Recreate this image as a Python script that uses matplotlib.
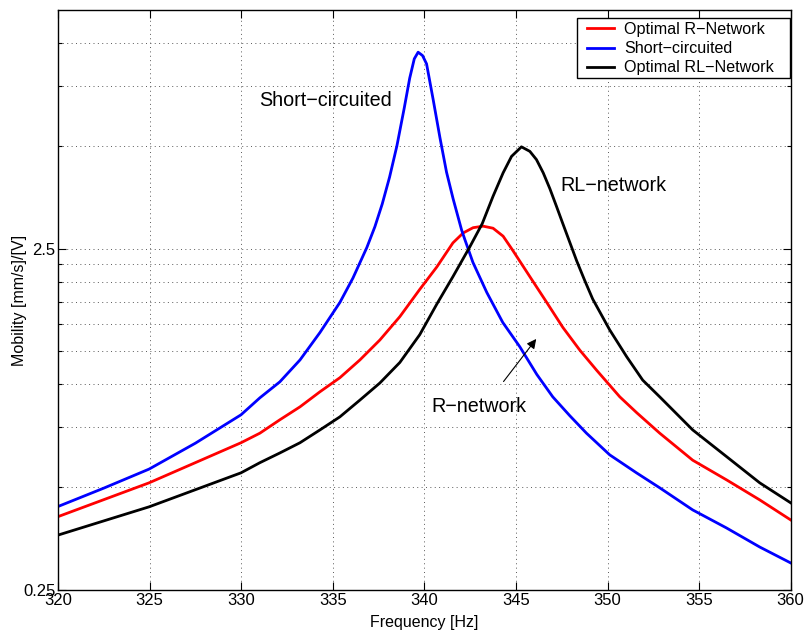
import matplotlib
matplotlib.use("Agg")
import matplotlib.pyplot as plt
from matplotlib.patches import Rectangle
from matplotlib.ticker import FixedLocator, NullFormatter

plt.rcParams['font.family'] = ['Liberation Sans', 'DejaVu Sans']

# Short-circuited
freq_sc = [320.0, 322.5, 324.97, 327.5, 329.99, 331.02, 332.11, 333.21, 334.30, 335.39,
           336.10, 336.86, 337.30, 337.70, 338.10, 338.50, 338.90, 339.20, 339.45, 339.66,
           339.90, 340.12, 340.48, 340.85, 341.21, 341.57, 342.03, 342.21, 342.65, 343.41,
           344.28, 345.21, 346.14, 347.01, 347.94, 348.85, 350.12, 351.58, 352.85, 354.65,
           356.49, 358.31, 360.0]
mob_sc = [0.439, 0.497, 0.565, 0.673, 0.815, 0.914, 1.018, 1.18, 1.42, 1.74,
          2.05, 2.52, 2.90, 3.38, 4.05, 5.0, 6.45, 7.90, 9.0, 9.41,
          9.2, 8.7, 6.84, 5.29, 4.19, 3.50, 2.84, 2.66, 2.28, 1.86,
          1.52, 1.29, 1.07, 0.92, 0.81, 0.72, 0.622, 0.551, 0.498, 0.429,
          0.38, 0.334, 0.300]

# Optimal R-network
freq_r = [320.0, 324.97, 329.99, 331.02, 332.11, 333.21, 334.30, 335.39, 336.48, 337.57,
          338.66, 339.75, 340.68, 341.56, 342.12, 342.66, 343.21, 343.75, 344.30, 344.83,
          345.76, 346.68, 347.56, 348.49, 349.41, 350.67, 351.60, 352.85, 354.65, 356.51,
          358.31, 360.0]
mob_r = [0.410, 0.515, 0.675, 0.72, 0.788, 0.86, 0.952, 1.047, 1.18, 1.35,
         1.58, 1.90, 2.21, 2.60, 2.78, 2.88, 2.91, 2.87, 2.72, 2.47,
         2.07, 1.74, 1.47, 1.26, 1.10, 0.92, 0.826, 0.72, 0.60, 0.525,
         0.459, 0.401]

# Optimal RL-network
freq_rl = [320.0, 324.97, 329.99, 331.02, 332.11, 333.21, 334.30, 335.39, 336.48, 337.57,
           338.66, 339.75, 340.68, 341.56, 342.48, 343.16, 343.75, 344.30, 344.76, 345.30,
           345.76, 346.12, 346.49, 346.85, 347.21, 347.56, 348.32, 348.75, 349.19, 350.12,
           351.05, 351.92, 352.85, 354.65, 356.51, 358.31, 360.0]
mob_rl = [0.362, 0.438, 0.551, 0.59, 0.63, 0.675, 0.736, 0.804, 0.90, 1.01,
          1.16, 1.40, 1.72, 2.07, 2.53, 2.96, 3.56, 4.17, 4.66, 4.97,
          4.82, 4.56, 4.17, 3.75, 3.33, 2.96, 2.30, 2.02, 1.78, 1.445,
          1.205, 1.03, 0.92, 0.736, 0.614, 0.515, 0.45]

series_labels = ['Optimal R\u2212Network', 'Short\u2212circuited', 'Optimal RL\u2212Network']
x_ticks = [320, 325, 330, 335, 340, 345, 350, 355, 360]
y_major = [0.25, 2.5]
y_minor = [0.5, 0.75, 1.0, 1.25, 1.5, 1.75, 2.0, 2.25, 5.0, 7.5, 10.0]

W, H = 806, 633
fig = plt.figure(figsize=(W / 100, H / 100), dpi=100)
ax = fig.add_axes([0.072, 0.068, 0.909, 0.916])

ax.plot(freq_r, mob_r, color=(1, 0, 0), lw=2.0, label=series_labels[0])
ax.plot(freq_sc, mob_sc, color=(0, 0, 1), lw=2.0, label=series_labels[1])
ax.plot(freq_rl, mob_rl, color='k', lw=2.0, label=series_labels[2])

ax.set_yscale('log')
ax.set_xlim(320, 360)
ax.set_ylim(0.25, 12.5)
ax.set_xticks(x_ticks)
ax.set_xticklabels([str(t) for t in x_ticks])
ax.yaxis.set_major_locator(FixedLocator(y_major))
ax.yaxis.set_minor_locator(FixedLocator(y_minor))
ax.set_yticklabels(['0.25', '2.5'])
ax.yaxis.set_minor_formatter(NullFormatter())

ax.tick_params(which='both', direction='in', top=True, right=True, labelsize=12, width=0.8)
ax.tick_params(which='major', length=6, pad=2)
ax.tick_params(which='minor', length=3)
ax.tick_params(axis='x', which='minor', bottom=False, top=False)

gstyle = dict(linestyle=(0, (1, 3.5)), color='0.35', lw=0.7)
ax.grid(True, which='major', axis='both', **gstyle)
ax.grid(True, which='minor', axis='y', **gstyle)

for s in ax.spines.values():
    s.set_linewidth(1.0)

ax.set_xlabel('Frequency [Hz]', fontsize=11.5, labelpad=5)
ax.set_ylabel('Mobility [mm/s]/[V]', fontsize=11.5, labelpad=-3)

ax.text(331.0, 6.8, 'Short\u2212circuited', fontsize=14.2, va='center', ha='left')
ax.text(347.4, 3.83, 'RL\u2212network', fontsize=14.2, va='center', ha='left')
ax.text(340.4, 0.86, 'R\u2212network', fontsize=14.2, va='center', ha='left')
ax.annotate('', xy=(346.2, 1.38), xytext=(344.23, 1.005),
            arrowprops=dict(arrowstyle='-|>', color='k', lw=0.8, mutation_scale=14))

# legend box (MATLAB style, wider horizontal padding)
box = Rectangle((577 / W, 1 - 78 / H), 213 / W, 60 / H, transform=fig.transFigure,
                facecolor='white', edgecolor='k', lw=1.0, zorder=4.5, clip_on=False)
ax.add_patch(box)
leg = ax.legend(loc='upper left', bbox_to_anchor=(587 / W, 1 - 22 / H),
                bbox_transform=fig.transFigure, fontsize=11.6, frameon=False,
                borderaxespad=0.0, borderpad=0.0, handlelength=1.68,
                handletextpad=0.62, labelspacing=0.26)
leg.set_zorder(5)

fig.savefig('out.png', dpi=100)
